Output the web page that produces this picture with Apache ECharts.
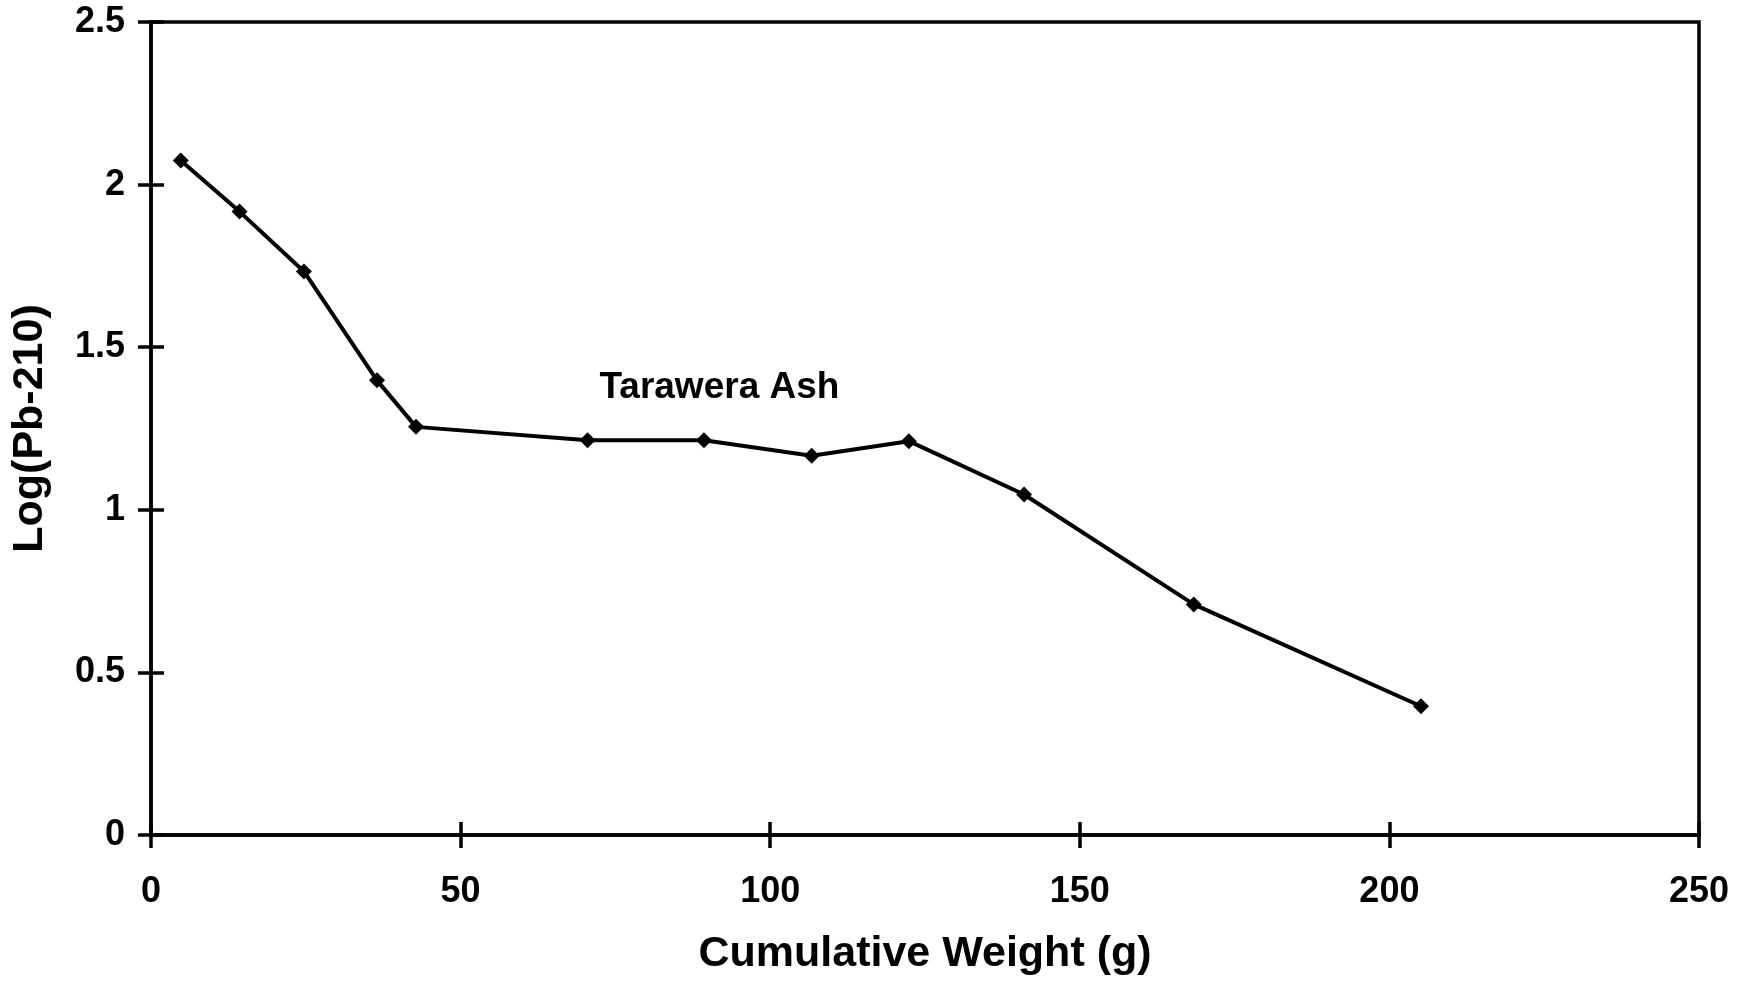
<!DOCTYPE html>
<html>
<head>
<meta charset="utf-8">
<script src="https://cdn.jsdelivr.net/npm/echarts@6/dist/echarts.min.js"></script>
<style>
html,body{margin:0;padding:0;background:#fff;}
#chart{width:1738px;height:983px;}
</style>
</head>
<body>
<div id="chart"></div>
<script>
const cumulativeWeight = [4.8, 14.3, 24.7, 36.5, 42.8, 70.5, 89.3, 106.7, 122.4, 141.0, 168.4, 205.1];
const logPb210 = [2.074, 1.917, 1.733, 1.398, 1.255, 1.214, 1.214, 1.166, 1.211, 1.047, 0.709, 0.396];
const annotationText = 'Tarawera Ash';
const annotationAt = [91.8, 1.375];
const xTitle = 'Cumulative Weight (g)';
const yTitle = 'Log(Pb-210)';

const FONT = '"Liberation Sans", Arial, Helvetica, sans-serif';
const chart = echarts.init(document.getElementById('chart'));
const axisLine = {show: true, lineStyle: {color: '#000', width: 3.5}};
const tickStyle = {color: '#000', width: 3.5};

const option = {
  backgroundColor: '#fff',
  animation: false,
  grid: {left: 151, top: 22, right: 39, bottom: 148, containLabel: false, outerBoundsMode: 'none',
         show: true, borderColor: '#000', borderWidth: 3.5},
  xAxis: [
    {
      type: 'value', min: 0, max: 250, interval: 50, position: 'bottom',
      axisLine: axisLine,
      axisTick: {show: true, inside: false, length: 13, lineStyle: tickStyle},
      splitLine: {show: false},
      axisLabel: {color: '#000', fontFamily: FONT, fontWeight: 'bold', fontSize: 36, margin: 39},
      name: xTitle, nameLocation: 'middle', nameGap: 98,
      nameTextStyle: {color: '#000', fontFamily: FONT, fontWeight: 'bold', fontSize: 43}
    },
    {
      type: 'value', min: 0, max: 250, interval: 50, position: 'bottom',
      axisLine: {show: false},
      axisTick: {show: true, inside: true, length: 13, lineStyle: tickStyle},
      splitLine: {show: false}, axisLabel: {show: false}
    }
  ],
  yAxis: [
    {
      type: 'value', min: 0, max: 2.5, interval: 0.5, position: 'left',
      axisLine: axisLine,
      axisTick: {show: true, inside: false, length: 13, lineStyle: tickStyle},
      splitLine: {show: false},
      axisLabel: {color: '#000', fontFamily: FONT, fontWeight: 'bold', fontSize: 36, margin: 26},
      name: yTitle, nameLocation: 'middle', nameGap: 99, nameRotate: 90,
      nameTextStyle: {color: '#000', fontFamily: FONT, fontWeight: 'bold', fontSize: 43}
    },
    {
      type: 'value', min: 0, max: 2.5, interval: 0.5, position: 'left',
      axisLine: {show: false},
      axisTick: {show: true, inside: true, length: 13, lineStyle: tickStyle},
      splitLine: {show: false}, axisLabel: {show: false}
    }
  ],
  series: [{
    type: 'line',
    xAxisIndex: 0, yAxisIndex: 0,
    data: cumulativeWeight.map((x, i) => [x, logPb210[i]]),
    symbol: 'diamond', symbolSize: 16,
    itemStyle: {color: '#000'},
    lineStyle: {color: '#000', width: 4},
    markPoint: {
      symbol: 'circle', symbolSize: 0,
      data: [{coord: annotationAt}],
      label: {show: true, formatter: annotationText, color: '#000', fontFamily: FONT, fontWeight: 'bold', fontSize: 37, position: 'inside'}
    }
  }]
};
chart.setOption(option);
</script>
</body>
</html>
